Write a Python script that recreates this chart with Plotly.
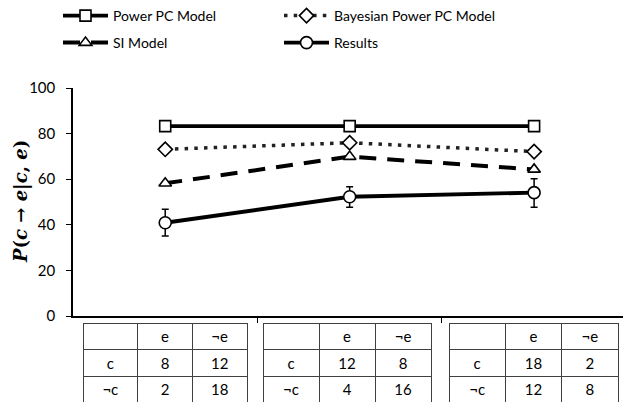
import plotly.graph_objects as go

conditions = [0, 1, 2]
power_pc = [83.3, 83.3, 83.3]
bayesian_power_pc = [73.1, 76.0, 72.1]
si_model = [58.2, 69.9, 64.3]
results = [40.9, 52.3, 54.1]
results_err_plus = [5.9, 4.4, 6.1]
results_err_minus = [5.8, 4.6, 6.4]

table_header = ["", "e", "¬e"]
table_rows = ["c", "¬c"]
table_e = [[8, 2], [12, 4], [18, 12]]
table_not_e = [[12, 18], [8, 16], [2, 8]]

FONT = "Lato"
W, H = 623, 402
AX_L, AX_T, AX_B = 73, 88, 316


def fx(px):
    return px / W


def fy(py):
    return (H - py) / H


fig = go.Figure()

mk = dict(color="white", line=dict(color="black", width=1.6))
fig.add_trace(go.Scatter(x=conditions, y=power_pc, name="Power PC Model", mode="lines+markers",
                         line=dict(color="black", width=3.8), legend="legend",
                         marker=dict(symbol="square", size=11, **mk)))
fig.add_trace(go.Scatter(x=conditions, y=bayesian_power_pc, name="Bayesian Power PC Model", mode="lines+markers",
                         line=dict(color="#222", width=3.5, dash="3.5px,6.2px"), legend="legend",
                         marker=dict(symbol="diamond", size=11, **mk)))
fig.add_trace(go.Scatter(x=conditions, y=si_model, name="SI Model", mode="lines+markers",
                         line=dict(color="black", width=4, dash="17px,11px"), legend="legend2",
                         marker=dict(symbol="triangle-up", size=11, **mk)))
fig.add_trace(go.Scatter(x=conditions, y=results, name="Results", mode="lines+markers",
                         line=dict(color="black", width=3.8), legend="legend2",
                         error_y=dict(type="data", symmetric=False, array=results_err_plus,
                                      arrayminus=results_err_minus, color="black", thickness=1.5, width=3.5),
                         marker=dict(symbol="circle", size=12, **mk)))

# contingency tables
x_domains = [(83, 248), (263, 432), (449, 618)]
table_top = 323
for i, (x0, x1) in enumerate(x_domains):
    fig.add_trace(go.Table(
        domain=dict(x=[fx(x0), fx(x1)], y=[0, fy(table_top)]),
        columnwidth=[1, 1, 1],
        header=dict(values=table_header, height=26.5, align="center",
                    fill_color="white", line=dict(color="#404040", width=1),
                    font=dict(family=FONT, size=15, color="black")),
        cells=dict(values=[table_rows, table_e[i], table_not_e[i]], height=26.5,
                   align="center", fill_color="white",
                   line=dict(color="#404040", width=1),
                   font=dict(family=FONT, size=15, color="black")),
    ))

leg_common = dict(orientation="h", xanchor="left", yanchor="top", entrywidth=161,
                  itemwidth=45, font=dict(family=FONT, size=14, color="black"),
                  bgcolor="rgba(0,0,0,0)", traceorder="normal")

fig.update_layout(
    width=W, height=H,
    margin=dict(l=0, r=0, t=0, b=0),
    paper_bgcolor="white", plot_bgcolor="white",
    font=dict(family=FONT, size=14, color="black"),
    showlegend=True,
    legend=dict(x=fx(58), y=1, **leg_common),
    legend2=dict(x=fx(58), y=fy(27), **leg_common),
    xaxis=dict(domain=[fx(AX_L), 1], range=[-0.5, 2.482], showgrid=False, zeroline=False, showline=True,
               linecolor="black", linewidth=1.5, tickvals=[0.5, 1.5], ticktext=["", ""],
               ticks="outside", ticklen=5, tickcolor="black", tickwidth=1.2, automargin=False),
    yaxis=dict(domain=[fy(AX_B), fy(AX_T)], range=[0, 100], tickvals=[0, 20, 40, 60, 80, 100],
               showgrid=False, zeroline=False, showline=True, linecolor="black", linewidth=1.5,
               ticks="outside", ticklen=5, tickcolor="black", tickwidth=1.2, automargin=False,
               ticklabelstandoff=8,
               tickfont=dict(family=FONT, size=15, color="black")),
    annotations=[dict(
        text="<b><i>P</i>(<i>c</i> → <i>e</i>|<i>c</i>, <i>e</i>)</b>",
        textangle=-90, xref="paper", yref="paper",
        x=fx(21), y=fy(202), xanchor="center", yanchor="middle",
        showarrow=False, font=dict(family="DejaVu Serif", size=18, color="black"))],
)

fig.write_html("out.html", config={"displayModeBar": False},
               post_script="document.body.style.margin='0';")
